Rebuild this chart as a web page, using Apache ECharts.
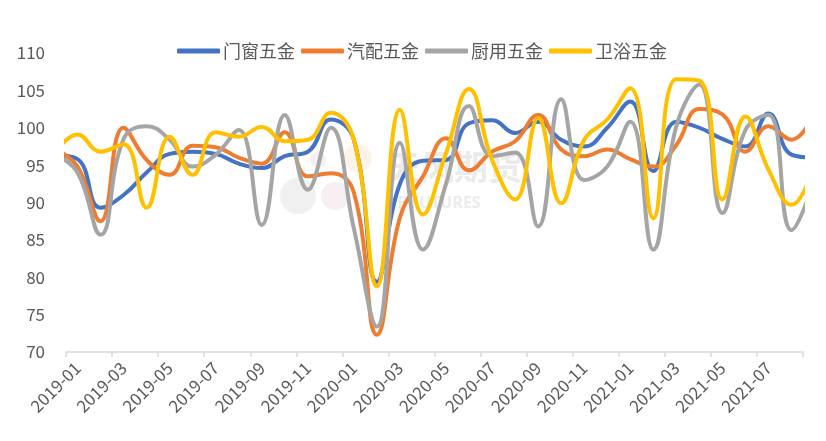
<!DOCTYPE html>
<html>
<head>
<meta charset="utf-8">
<script src="https://cdn.jsdelivr.net/npm/echarts@6/dist/echarts.min.js"></script>
<style>html,body{margin:0;padding:0;background:#fff}#c{width:826px;height:441px}</style>
</head>
<body>
<div id="c"></div>
<script>
// months incl. one lead-in (2018-12) and one trailing (2021-09) point, clipped at the axis edges
var months = ['2018-12','2019-01','2019-02','2019-03','2019-04','2019-05','2019-06','2019-07','2019-08','2019-09','2019-10','2019-11','2019-12',
  '2020-01','2020-02','2020-03','2020-04','2020-05','2020-06','2020-07','2020-08','2020-09','2020-10','2020-11','2020-12',
  '2021-01','2021-02','2021-03','2021-04','2021-05','2021-06','2021-07','2021-08','2021-09'];
var categories = months.slice(1, 33);
var seriesNames = ['门窗五金','汽配五金','厨用五金','卫浴五金'];
var doorWindow = [96.3,95.8,89.3,91.0,94.0,96.5,96.8,96.5,95.2,94.6,96.2,96.8,101.1,98.4,79.4,92.5,95.6,95.7,100.6,101.0,99.3,100.8,98.4,97.5,100.0,103.5,94.2,100.8,100.0,98.5,97.5,101.9,96.4,96.0];
var autoParts  = [97.2,94.8,87.5,100.0,95.7,93.7,97.6,97.4,96.0,95.2,99.4,93.5,93.9,91.3,72.3,88.0,93.5,98.6,94.3,96.8,98.2,101.7,97.1,96.2,97.1,95.8,94.8,97.7,102.5,101.8,96.8,100.2,98.4,102.0];
var kitchen    = [96.5,94.0,85.7,98.5,100.2,98.4,94.8,96.4,99.7,87.0,101.7,91.7,100.0,86.5,73.4,98.0,83.7,92.5,102.9,96.2,96.7,86.8,103.8,93.0,94.8,100.8,83.7,100.2,105.8,88.6,99.7,101.7,86.3,93.0];
var bathroom   = [96.5,99.1,96.8,97.8,89.3,98.8,93.7,99.4,98.8,100.1,98.2,98.4,102.0,98.4,78.8,102.4,88.4,96.6,105.2,95.7,90.4,101.3,89.9,98.4,101.1,105.3,87.9,106.5,106.3,90.4,101.5,94.4,89.7,95.0];
var yMin = 70, yMax = 110, yStep = 5;
var colors = ['#4472C4','#ED7D31','#A5A5A5','#FFC000'];

function toPairs(arr){ return arr.map(function(v,i){ return [i - 0.5, v]; }); }

var chart = echarts.init(document.getElementById('c'));
var font = '"Noto Sans CJK SC","Noto Sans",sans-serif';
var allData = [doorWindow, autoParts, kitchen, bathroom];
chart.setOption({
  animation: false,
  backgroundColor: '#fff',
  color: colors,
  textStyle: {fontFamily: font},
  legend: {
    top: 37, left: 172,
    itemWidth: 43, itemHeight: 5, itemGap: 6,
    icon: 'roundRect',
    textStyle: {color: '#595959', fontSize: 18, fontFamily: font, padding: [0,0,0,-2]},
    data: seriesNames
  },
  graphic: [
    {type:'circle', shape:{cx:298, cy:196, r:18}, style:{fill:'rgba(200,200,200,0.28)'}, z:-10},
    {type:'circle', shape:{cx:335, cy:196, r:14}, style:{fill:'rgba(205,150,170,0.15)'}, z:-10},
    {type:'circle', shape:{cx:358, cy:158, r:14}, style:{fill:'rgba(250,200,150,0.22)'}, z:-10},
    {type:'circle', shape:{cx:318, cy:160, r:8}, style:{fill:'rgba(200,150,170,0.14)'}, z:-10},
    {type:'text', left: 386, top: 150, style:{text:'天风期货', fill:'rgba(215,215,215,0.5)', font:'bold 34px "Noto Sans CJK SC"'}, z:-10},
    {type:'text', left: 388, top: 195, style:{text:'TF FUTURES', fill:'rgba(215,215,215,0.5)', font:'bold 16px "Noto Sans"'}, z:-10}
  ],
  grid: {left: 66, right: 23, top: 53, bottom: 89, containLabel: false},
  xAxis: [{
    type: 'category',
    data: categories,
    boundaryGap: true,
    axisLine: {lineStyle: {color: '#D9D9D9', width: 1.5}},
    axisTick: {show: true, interval: 1, length: 5, lineStyle: {color: '#D9D9D9', width: 1.5}},
    axisLabel: {interval: 1, rotate: 45, color: '#595959', fontSize: 17, margin: 13, fontFamily: font},
    splitLine: {show: false}
  }, {
    type: 'value', min: 0, max: 32, show: false
  }],
  yAxis: {
    type: 'value', min: yMin, max: yMax, interval: yStep,
    axisLine: {show: false}, axisTick: {show: false}, splitLine: {show: false},
    axisLabel: {color: '#595959', fontSize: 17, margin: 21, fontFamily: font}
  },
  series: seriesNames.map(function(n, k){
    return {
      name: n, type: 'line', xAxisIndex: 1, smooth: 0.45, showSymbol: false, symbol: 'none',
      clip: true, data: toPairs(allData[k]),
      lineStyle: {width: 4, color: colors[k], cap: 'round', join: 'round'}
    };
  })
});
</script>
</body>
</html>
